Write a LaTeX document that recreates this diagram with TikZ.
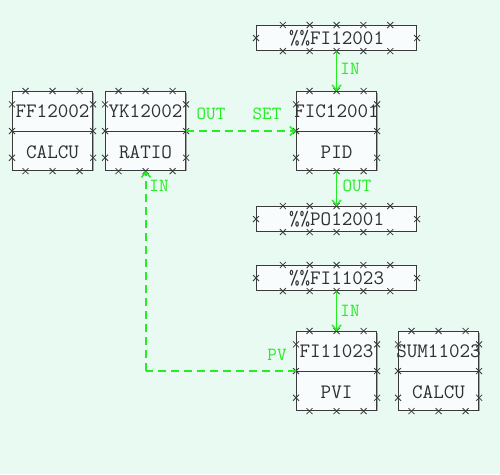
\documentclass[tikz,border=0pt]{standalone}
\usepackage{fontspec}
\usetikzlibrary{arrows.meta,calc}
\definecolor{bgc}{HTML}{E8FAF2}
\definecolor{boxc}{HTML}{F8FCFC}
\definecolor{edgec}{HTML}{3A3A3A}
\definecolor{txtc}{HTML}{303030}
\definecolor{grn}{HTML}{22EE22}
\tikzset{
  blk/.style={draw=edgec, fill=boxc, line width=1.1pt, minimum width=80pt, minimum height=79pt, inner sep=0pt},
  wblk/.style={draw=edgec, fill=boxc, line width=1.1pt, minimum width=160pt, minimum height=25pt, inner sep=0pt, font=\ttfamily\fontsize{20.5}{20.5}\selectfont, text=txtc},
  btxt/.style={font=\ttfamily\fontsize{20.5}{20.5}\selectfont, text=txtc, inner sep=0pt},
  glab/.style={font=\ttfamily\fontsize{18.5}{18.5}\selectfont, text=grn, inner sep=0pt},
  solidc/.style={draw=grn, line width=1.4pt, -{Straight Barb[length=5pt,width=9pt]}},
  dashc/.style={draw=grn, line width=1.6pt, dash pattern=on 8pt off 5pt},
  xm/.style={draw=edgec, line width=0.8pt}
}
\newcommand{\xmark}[1]{\draw[xm] ($#1+(-3pt,-3pt)$) -- ($#1+(3pt,3pt)$) ($#1+(-3pt,3pt)$) -- ($#1+(3pt,-3pt)$);}
\newcommand{\bigblk}[4]{% name, x-left, y-top, top text
  \draw[gray!70, line width=1pt] (#2+81.5,#3+2) -- (#2+81.5,#3+80);
  \node[blk, anchor=north west] (#1) at (#2,#3) {};
  \draw[edgec, line width=1pt] (#1.west) -- (#1.east);
  \foreach \f in {0.1667,0.5,0.8333}{
    \xmark{($(#1.north west)!\f!(#1.north east)$)}
    \xmark{($(#1.south west)!\f!(#1.south east)$)}
    \xmark{($(#1.north west)!\f!(#1.south west)$)}
    \xmark{($(#1.north east)!\f!(#1.south east)$)}
  }
  \node[btxt] (#1t) at ($(#1.north)+(0,20)$) {#4};
}
\newcommand{\wideblk}[4]{% name, x-left, y-top, text
  \node[wblk, anchor=north west] (#1) at (#2,#3) {#4};
  \foreach \f in {0.1667,0.3333,0.5,0.6667,0.8333}{
    \xmark{($(#1.north west)!\f!(#1.north east)$)}
    \xmark{($(#1.south west)!\f!(#1.south east)$)}
  }
  \xmark{(#1.west)}
  \xmark{(#1.east)}
}
\begin{document}
\begin{tikzpicture}[x=1pt,y=-1pt]
\fill[bgc] (0,0) rectangle (500,474);
\useasboundingbox (0,0) rectangle (500,474);

\bigblk{ff}{12}{91}{FF12002}
\node[btxt] (ffb) at ($(ff.south)+(0,-19)$) {CALCU};
\bigblk{yk}{105}{91}{YK12002}
\node[btxt] (ykb) at ($(yk.south)+(0,-19)$) {RATIO};
\bigblk{fic}{296}{91}{FIC12001}
\node[btxt] (ficb) at ($(fic.south)+(0,-19)$) {PID};
\bigblk{fi}{296}{331}{FI11023}
\node[btxt] (fib) at ($(fi.south)+(0,-19)$) {PVI};
\bigblk{sum}{398}{331}{SUM11023}
\node[btxt] (sumb) at ($(sum.south)+(0,-19)$) {CALCU};

\wideblk{fi1}{256}{25}{\%\%FI12001}
\wideblk{po1}{256}{206}{\%\%PO12001}
\wideblk{fi2}{256}{265}{\%\%FI11023}

\draw[solidc] (fi1.south) -- (fic.north);
\draw[solidc] (fic.south) -- (po1.north);
\draw[solidc] (fi2.south) -- (fi.north);
\draw[dashc, -{Straight Barb[length=5pt,width=9pt]}] (yk.east) -- (fic.west);
\coordinate (corner) at ($(yk.south |- fi.west)+(0.4,0)$);
\draw[dashc] (fi.west) -- (corner);
\draw[dashc, -{Straight Barb[length=5pt,width=9pt]}] (corner) -- ($(yk.south)+(0.4,0)$);

\node[glab] (l1) at (350,69) {IN};
\node[glab] (l2) at (357,186) {OUT};
\node[glab] (l3) at (350,311) {IN};
\node[glab] (l4) at (211,114) {OUT};
\node[glab] (l5) at (267,114) {SET};
\node[glab] (l6) at (277,355) {PV};
\node[glab] (l7) at (159,186) {IN};
\end{tikzpicture}
\end{document}
